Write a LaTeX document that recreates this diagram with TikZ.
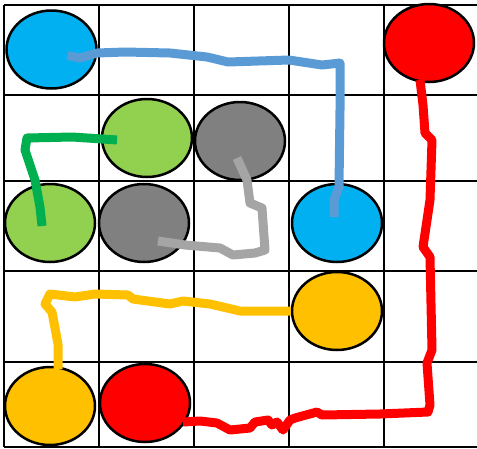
\documentclass[tikz,border=0pt]{standalone}
\usepackage{tikz}
\usetikzlibrary{shapes.geometric}

\definecolor{ballblue}{HTML}{00B0F0}
\definecolor{ballgreen}{HTML}{92D050}
\definecolor{ballgray}{HTML}{808080}
\definecolor{ballred}{HTML}{FF0000}
\definecolor{ballyellow}{HTML}{FFC000}
\definecolor{trailblue}{HTML}{5B9BD5}
\definecolor{trailgreen}{HTML}{00B050}
\definecolor{trailgray}{HTML}{A5A5A5}

\begin{document}
\begin{tikzpicture}[
    x=1pt, y=-1pt,
    ball/.style={draw, ellipse, line width=2.5pt, inner sep=0pt,
                 minimum width=90pt, minimum height=78pt},
    gridline/.style={line width=2pt},
    trail/.style={line width=9pt, line join=round}
]
\useasboundingbox (0,0) rectangle (477,448);

% grid
\foreach \x in {4,99,194,289,384}
    \draw[gridline] (\x,5) -- (\x,447);
\foreach \y in {5,95,181,271,362,447}
    \draw[gridline] (4,\y) -- (480,\y);

% balls
\node[ball, fill=ballblue]   (b1) at (51.5,49.5) {};
\node[ball, fill=ballred]    (r1) at (429,43)    {};
\node[ball, fill=ballgreen]  (g1) at (147,138)   {};
\node[ball, fill=ballgray]   (k1) at (240,141)   {};
\node[ball, fill=ballgreen]  (g2) at (50,223)    {};
\node[ball, fill=ballgray]   (k2) at (144,223)   {};
\node[ball, fill=ballblue]   (b2) at (337,223)   {};
\node[ball, fill=ballyellow] (y1) at (337,311)   {};
\node[ball, fill=ballyellow] (y2) at (50,406)    {};
\node[ball, fill=ballred]    (r2) at (145,403)   {};

% trails
\draw[trail, trailblue] ([shift={(16,6)}]b1.center) -- (80,58) -- (97,53)
    -- (125,52) -- (170,53) -- (207,57) -- (228,62) -- (289,60) -- (322,65)
    -- (340,63) -- (340,110) -- (339,187) -- (334,200)
    -- ([shift={(-3,-6)}]b2.center);
\draw[trail, trailgreen] ([shift={(-30,2)}]g1.center) -- (72,137) -- (27,138)
    -- (25,150) -- (35,180) -- (40,207) -- ([shift={(-8,3)}]g2.center);
\draw[trail, trailgray] ([shift={(-3,17)}]k1.center) -- (247,180) -- (250,203)
    -- (262,208) -- (265,250) -- (255,253) -- (233,255) -- (220,248)
    -- (185,245) -- ([shift={(14,18)}]k2.center);
\draw[trail, ballyellow] (y1.west) -- (277,311) -- (240,311) -- (210,304)
    -- (183,301) -- (170,304) -- (133,299) -- (128,295) -- (95,294)
    -- (75,297) -- (50,294) -- (45,304) -- (52,312) -- (58,344)
    -- ([shift={(8,-37)}]y2.center);
\draw[trail, ballred] ([shift={(-9,37)}]r1.center) -- (423,105) -- (425,133)
    -- (432,140) -- (430,200) -- (423,247) -- (430,257) -- (432,350)
    -- (427,363) -- (430,405) -- (428,412) -- (380,414) -- (322,415)
    -- (317,412) -- (295,418) -- (290,420) -- (283,430) -- (277,422)
    -- (272,425) -- (268,420) -- (255,422) -- (250,428) -- (230,430)
    -- (217,423) -- (200,421) -- ([shift={(38,19)}]r2.center);
\end{tikzpicture}
\end{document}
